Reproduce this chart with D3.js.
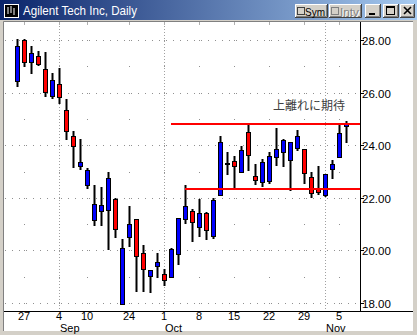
<!DOCTYPE html>
<html>
<head>
<meta charset="utf-8">
<script src="https://cdn.jsdelivr.net/npm/d3@7"></script>
<style>
  body { margin: 0; background: #d4d0c8; }
  svg { display: block; }
</style>
</head>
<body>
<div id="chart"></div>
<script>
// 1: DATA (Agilent, daily, Aug 24 - Nov 6 2001)
const dates = ["08/24","08/27","08/28","08/29","08/30","08/31","09/04","09/05","09/06","09/07",
  "09/10","09/17","09/18","09/19","09/20","09/21","09/24","09/25","09/26","09/27",
  "09/28","10/01","10/02","10/03","10/04","10/05","10/08","10/09","10/10","10/11",
  "10/12","10/15","10/16","10/17","10/18","10/19","10/22","10/23","10/24","10/25",
  "10/26","10/29","10/30","10/31","11/01","11/02","11/05","11/06"];
const opens = [26.44,28.00,27.16,27.39,26.90,25.87,26.32,25.33,24.34,23.20,
  22.48,21.14,21.49,21.52,21.94,17.98,20.50,21.18,19.92,19.01,
  19.39,19.12,18.97,19.85,21.18,21.49,20.88,21.41,20.53,22.10,
  23.31,23.39,22.97,24.50,22.82,22.59,22.63,23.54,23.73,23.43,
  23.89,23.85,22.78,22.36,22.10,23.09,23.54,24.72];
const highs = [28.04,28.04,27.77,27.58,27.54,26.74,26.93,25.75,24.53,24.23,
  23.12,22.48,22.40,22.97,21.98,20.42,21.68,21.18,20.19,19.24,
  19.89,19.28,20.08,21.22,22.48,21.56,21.94,21.45,21.98,24.34,
  23.73,23.58,23.96,24.80,23.28,23.47,23.73,24.65,24.23,24.11,
  24.57,23.85,22.97,23.20,22.90,23.43,24.80,24.91];
const lows = [26.25,27.01,26.74,27.05,25.87,25.79,25.60,24.23,23.16,23.09,
  22.36,20.95,20.95,20.04,20.50,17.98,20.15,18.44,18.44,18.40,
  18.97,18.70,18.97,19.50,21.03,20.34,20.53,20.42,20.46,22.10,
  22.90,22.32,22.97,23.05,22.51,22.44,22.55,23.24,23.20,22.29,
  23.81,22.55,22.02,22.13,22.06,22.74,23.54,24.11];
const closes = [27.77,27.16,27.50,27.09,26.02,26.48,25.83,24.53,23.96,23.35,
  23.05,21.75,21.71,22.74,20.80,20.11,20.99,19.77,19.28,19.24,
  19.54,18.86,20.04,21.22,21.68,21.07,21.41,20.76,21.90,24.11,
  23.31,23.20,23.81,23.62,22.67,23.35,23.58,23.85,24.19,24.11,
  24.34,22.93,22.17,22.21,22.90,23.28,24.46,24.80];

const weekTicks = ["08/27","09/04","09/10","09/24","10/01","10/08","10/15","10/22","10/29","11/05"];
const weekLabels = ["27","4","10","24","1","8","15","22","29","5"];
const monthStarts = ["09/04","10/01","11/01"];
const monthLabels = ["Sep","Oct","Nov"];
const priceTicks = [18,20,22,24,26,28];
const minorPrices = [19,21,23,25,27];
// hand drawn support / resistance lines
const levelStarts = ["10/02","10/04"];
const levelPrices = [24.80,22.32];
const note = "上離れに期待";
const title = "Agilent Tech Inc, Daily";

// 2: LAYOUT
const W = 417, H = 335;
const panel = { left: 4, top: 22, right: 413, bottom: 331 };
const axisX = 360, axisY = 311;

const svg = d3.select("#chart").append("svg")
  .attr("width", W).attr("height", H)
  .style("font-family", "'Liberation Sans', Arial, sans-serif");

svg.append("rect").attr("width", W).attr("height", H).attr("fill", "#d4d0c8");

// title bar
const grad = svg.append("defs").append("linearGradient").attr("id", "tb");
grad.append("stop").attr("offset", "0%").attr("stop-color", "#0a246a");
grad.append("stop").attr("offset", "100%").attr("stop-color", "#a6caf0");
svg.append("rect").attr("x", 0).attr("y", 0).attr("width", W).attr("height", 20).attr("fill", "url(#tb)");

// little window icon
const icon = svg.append("g").attr("transform", "translate(4,4)");
icon.append("rect").attr("x", 0.5).attr("y", 0.5).attr("width", 14).attr("height", 13)
  .attr("fill", "#000").attr("stroke", "#fff");
[[4, 3, 10], [7, 2, 9], [10, 4, 11]].forEach(([x, a, b]) => {
  icon.append("line").attr("x1", x).attr("x2", x).attr("y1", a).attr("y2", b)
    .attr("stroke", "#fff").attr("stroke-width", 1);
});

svg.append("text").attr("x", 23).attr("y", 15)
  .attr("fill", "#fff").style("font-size", "13px")
  .attr("textLength", 114).attr("lengthAdjust", "spacingAndGlyphs")
  .text(title);

function button(x, w) {
  const g = svg.append("g").attr("transform", `translate(${x},4)`);
  g.append("rect").attr("width", w).attr("height", 14).attr("fill", "#d4d0c8");
  g.append("path").attr("d", `M0.5,13 V0.5 H${w - 1}`).attr("stroke", "#fff").attr("fill", "none");
  g.append("path").attr("d", `M0,13.5 H${w - 0.5} V0`).attr("stroke", "#404040").attr("fill", "none");
  g.append("path").attr("d", `M1,12.5 H${w - 1.5} V1`).attr("stroke", "#808080").attr("fill", "none");
  return g;
}
const sym = button(295, 33);
sym.append("rect").attr("x", 2.5).attr("y", 3.5).attr("width", 7).attr("height", 7)
  .attr("fill", "#d4d0c8").attr("stroke", "#404040");
sym.append("text").attr("x", 10).attr("y", 11.5).style("font-size", "11px").attr("fill", "#000")
  .attr("textLength", 20).attr("lengthAdjust", "spacingAndGlyphs").text("Sym");
const intv = button(329, 33);
intv.append("rect").attr("x", 2.5).attr("y", 3.5).attr("width", 7).attr("height", 7)
  .attr("fill", "#d4d0c8").attr("stroke", "#808080");
intv.append("text").attr("x", 12).attr("y", 12.5).style("font-size", "11px").attr("fill", "#fff")
  .attr("textLength", 19).attr("lengthAdjust", "spacingAndGlyphs").text("Intv");
intv.append("text").attr("x", 11).attr("y", 11.5).style("font-size", "11px").attr("fill", "#808080")
  .attr("textLength", 19).attr("lengthAdjust", "spacingAndGlyphs").text("Intv");
const bMin = button(365, 16);
bMin.append("rect").attr("x", 4).attr("y", 9).attr("width", 6).attr("height", 2).attr("fill", "#000");
const bMax = button(383, 16);
bMax.append("rect").attr("x", 3.5).attr("y", 2.5).attr("width", 8).attr("height", 8)
  .attr("fill", "none").attr("stroke", "#000");
bMax.append("rect").attr("x", 3).attr("y", 2).attr("width", 9).attr("height", 2).attr("fill", "#000");
const bClose = button(400, 15);
bClose.append("path").attr("d", "M4,3 L11,10 M11,3 L4,10").attr("stroke", "#000").attr("stroke-width", 1.6);

// chart panel
svg.append("rect")
  .attr("x", panel.left).attr("y", panel.top)
  .attr("width", panel.right - panel.left).attr("height", panel.bottom - panel.top)
  .attr("fill", "#fff");
svg.append("path")
  .attr("d", `M${panel.left - 0.5},${panel.bottom} V${panel.top - 0.5} H${panel.right}`)
  .attr("stroke", "#808080").attr("fill", "none");

// 3: SCALES
const x = d3.scalePoint().domain(dates).range([17, 346]);
const y = d3.scaleLinear().domain([18, 28]).range([303, 40]);
const px = d => Math.round(x(d));
const py = v => Math.round(y(v));

// 4: GRID
const grid = svg.append("g");
grid.selectAll(".major").data(priceTicks).enter().append("line")
  .attr("x1", 5).attr("x2", axisX)
  .attr("y1", d => py(d) + 0.5).attr("y2", d => py(d) + 0.5)
  .attr("stroke", "#909090").attr("stroke-dasharray", "1,6");
grid.selectAll(".month").data(monthStarts).enter().append("line")
  .attr("x1", d => px(d) + 0.5).attr("x2", d => px(d) + 0.5)
  .attr("y1", panel.top + 1).attr("y2", axisY)
  .attr("stroke", "#a0a0a0").attr("stroke-dasharray", "1,2");
const dots = [];
weekTicks.forEach(w => minorPrices.concat(priceTicks).forEach(p => dots.push([w, p])));
grid.selectAll(".dot").data(dots).enter().append("rect")
  .attr("x", d => px(d[0])).attr("y", d => py(d[1]))
  .attr("width", 1).attr("height", 1).attr("fill", "#909090");
grid.selectAll(".topTick").data(weekTicks).enter().append("line")
  .attr("x1", d => px(d) + 0.5).attr("x2", d => px(d) + 0.5)
  .attr("y1", panel.top).attr("y2", panel.top + 3)
  .attr("stroke", "#b0b0b0");

// 5: AXES
svg.append("line").attr("x1", axisX + 0.5).attr("x2", axisX + 0.5)
  .attr("y1", panel.top).attr("y2", axisY).attr("stroke", "#000");
svg.append("line").attr("x1", panel.left).attr("x2", panel.right)
  .attr("y1", axisY + 0.5).attr("y2", axisY + 0.5).attr("stroke", "#000");

const yAxis = svg.append("g");
yAxis.selectAll("line").data(priceTicks).enter().append("line")
  .attr("x1", axisX).attr("x2", axisX + 4)
  .attr("y1", d => py(d) + 0.5).attr("y2", d => py(d) + 0.5).attr("stroke", "#000");
yAxis.selectAll("text").data(priceTicks).enter().append("text")
  .attr("x", axisX + 2).attr("y", d => py(d) + 5)
  .style("font-size", "11.5px").attr("fill", "#000")
  .text(d => d3.format(".2f")(d));

svg.selectAll(".wk").data(weekTicks).enter().append("text")
  .attr("x", d => px(d)).attr("y", 320)
  .attr("text-anchor", "middle").style("font-size", "11px").attr("fill", "#000")
  .text((d, i) => weekLabels[i]);
svg.selectAll(".mo").data(monthStarts).enter().append("text")
  .attr("x", d => px(d) + 1).attr("y", 331.5)
  .style("font-size", "11px").attr("fill", "#000")
  .text((d, i) => monthLabels[i]);

// 6: CANDLES
const bars = dates.map((d, i) => ({ d, o: opens[i], h: highs[i], l: lows[i], c: closes[i] }));
const candle = svg.append("g").selectAll("g").data(bars).enter().append("g");
candle.append("line")
  .attr("x1", d => px(d.d) + 0.5).attr("x2", d => px(d.d) + 0.5)
  .attr("y1", d => py(d.h)).attr("y2", d => py(d.l) + 1)
  .attr("stroke", "#000").attr("stroke-width", 2);
candle.append("rect")
  .attr("x", d => px(d.d) - 1.5)
  .attr("y", d => py(Math.max(d.o, d.c)) + 0.5)
  .attr("width", 4)
  .attr("height", d => Math.max(1, py(Math.min(d.o, d.c)) - py(Math.max(d.o, d.c))))
  .attr("fill", d => d.c < d.o ? "#ff0000" : "#0000ff")
  .attr("stroke", "#000");

// 7: LEVELS + NOTE
svg.selectAll(".level").data(levelPrices).enter().append("line")
  .attr("x1", (d, i) => px(levelStarts[i])).attr("x2", axisX)
  .attr("y1", d => py(d)).attr("y2", d => py(d))
  .attr("stroke", "#ff0000").attr("stroke-width", 2);

svg.append("text").attr("x", 273).attr("y", 110)
  .style("font-family", "'Noto Sans CJK JP', sans-serif")
  .style("font-size", "12px").attr("fill", "#404040")
  .text(note);
</script>
</body>
</html>
